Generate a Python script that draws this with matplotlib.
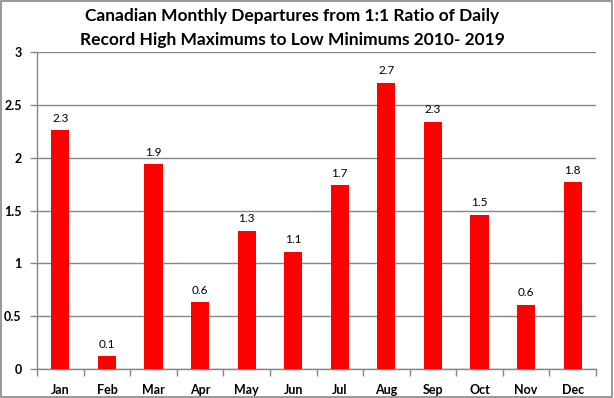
import matplotlib
matplotlib.use("Agg")
import matplotlib.pyplot as plt
from matplotlib.patches import Rectangle

months = ["Jan", "Feb", "Mar", "Apr", "May", "Jun", "Jul", "Aug", "Sep", "Oct", "Nov", "Dec"]
values = [2.26, 0.12, 1.94, 0.63, 1.31, 1.11, 1.74, 2.71, 2.34, 1.46, 0.61, 1.77]
yticks = [0, 0.5, 1, 1.5, 2, 2.5, 3]
ytick_labels = ["0", "0.5", "1", "1.5", "2", "2.5", "3"]
title = "Canadian Monthly Departures from 1:1 Ratio of Daily\nRecord High Maximums to Low Minimums 2010- 2019"

fig = plt.figure(figsize=(6.14, 3.98), dpi=100)
ax = fig.add_axes([37/614, 29/398, 559/614, 317/398])

x = list(range(len(months)))
ax.bar(x, values, width=0.39, color="#ff0000", zorder=3)
for xi, v in zip(x, values):
    ax.text(xi, v + 0.06, f"{v:.1f}", ha="center", va="bottom", fontsize=8.5,
            family="Lato", color="#000000")

ax.set_xlim(-0.5, 11.5)
ax.set_ylim(0, 3)
ax.set_yticks(yticks)
ax.set_yticklabels(ytick_labels, fontsize=9, fontweight="bold", family="Lato")
ax.set_xticks(x)
ax.set_xticklabels(months, fontsize=9, fontweight="bold", family="Lato")
ax.set_xticks([i - 0.5 for i in range(13)], minor=True)
ax.tick_params(axis="x", which="major", length=0, pad=11)
ax.tick_params(axis="x", which="minor", length=5, color="#868686", width=1)
ax.tick_params(axis="y", length=5, color="#868686", width=1, pad=6)
ax.grid(axis="y", color="#868686", linewidth=1, zorder=0)
for s in ["top", "right"]:
    ax.spines[s].set_visible(False)
for s in ["left", "bottom"]:
    ax.spines[s].set_color("#868686")
    ax.spines[s].set_linewidth(1)

fig.text(0.476, 0.98, title, ha="center", va="top", fontsize=12.5,
         fontweight="bold", family="Lato", linespacing=1.62)

fig.add_artist(Rectangle((0.001, 0.002), 0.996, 0.995, transform=fig.transFigure,
                         fill=False, edgecolor="#868686", linewidth=1.2))

fig.savefig("out.png", dpi=100)
